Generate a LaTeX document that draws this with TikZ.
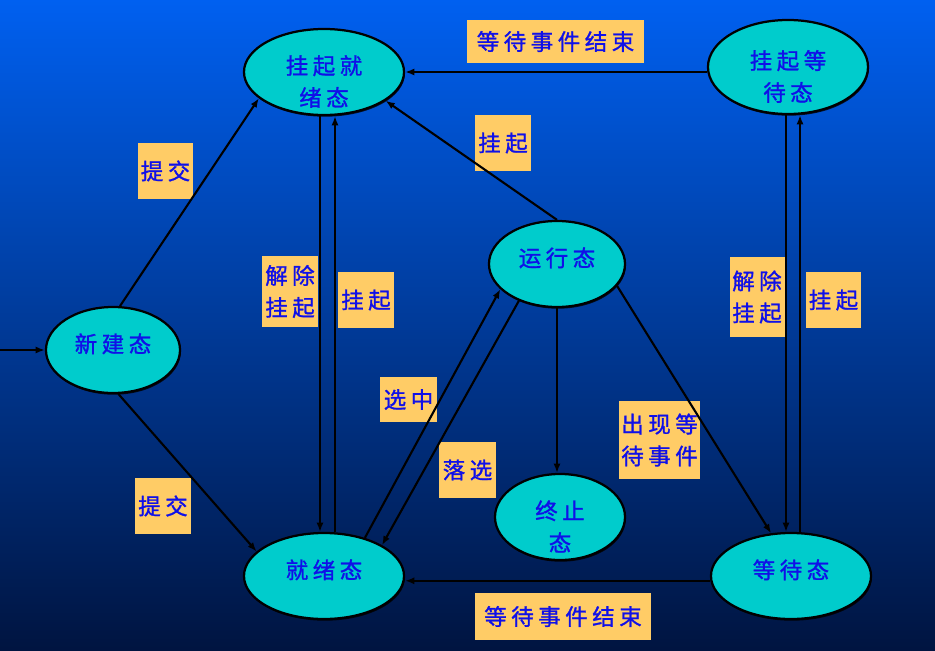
\documentclass[tikz,border=0pt]{standalone}
\usepackage{fontspec}
\usepackage{tikz}
\usetikzlibrary{shapes.geometric,arrows.meta,shadows}
\newfontfamily\cjk[LetterSpace=20,FakeBold=1.2]{Noto Sans CJK SC}
\definecolor{cian}{HTML}{00CCCC}
\definecolor{naranja}{HTML}{FFCC66}
\definecolor{azultexto}{HTML}{1010E8}
\definecolor{fondoalto}{HTML}{0060F0}
\definecolor{fondomedio}{HTML}{003CAA}
\definecolor{fondobajo}{HTML}{001440}
\newcommand{\bajar}{\rule{0pt}{27pt}}
\newcommand{\subir}{\rule[-10pt]{0pt}{10pt}}

\begin{document}
\begin{tikzpicture}[x=0.025cm,y=-0.025cm,
  estado/.style={ellipse,draw=black,line width=1.6pt,fill=cian,inner xsep=0pt,inner ysep=-14pt,
    minimum width=4cm,minimum height=2.15cm,align=center,text=azultexto,
    font=\cjk\fontsize{16pt}{22.7pt}\selectfont,
    drop shadow={shadow xshift=0.6pt,shadow yshift=-1.2pt,opacity=0.8,fill=black}},
  etiqueta/.style={fill=naranja,inner sep=0pt,align=center,text=azultexto,
    minimum width=1.375cm,minimum height=1.4cm,font=\cjk\fontsize{16pt}{22.7pt}\selectfont},
  flecha/.style={-{Latex[length=6.5pt,width=5pt]},line width=1.5pt,draw=black}]
\useasboundingbox (0,0) rectangle (935,651);
\shade[top color=fondoalto,middle color=fondomedio,bottom color=fondobajo] (0,0) rectangle (935,651);

% estados
\node[estado] (gqjx) at (324,72) {\bajar 挂起就\\绪态};
\node[estado,minimum height=2.35cm] (gqdd) at (788,67) {\bajar 挂起等\\待态};
\node[estado,minimum width=3.35cm] (xj) at (113,350) {\subir 新建态};
\node[estado,minimum width=3.4cm] (yx) at (557,264) {\subir 运行态};
\node[estado,minimum width=3.25cm] (zz) at (560,517) {\bajar 终止\\态};
\node[estado] (jx) at (324,576) {\subir 就绪态};
\node[estado] (dd) at (791,576) {\subir 等待态};

% etiquetas
\node[etiqueta,minimum width=4.425cm,minimum height=1.075cm] (fin1) at (555.5,41.5) {等待事件结束};
\node[etiqueta,minimum width=4.4cm,minimum height=1.175cm] (fin2) at (563,616.5) {等待事件结束};
\node[etiqueta] (tj1) at (165.5,171) {提交};
\node[etiqueta] (tj2) at (163,506) {提交};
\node[etiqueta] (gq1) at (503,143) {挂起};
\node[etiqueta,minimum height=1.775cm] (jc1) at (290,291.5) {解除\\挂起};
\node[etiqueta] (gq2) at (366,300) {挂起};
\node[etiqueta,minimum width=1.425cm,minimum height=1.125cm] (xz) at (408.5,399.5) {选中};
\node[etiqueta,minimum width=1.425cm] (lx) at (467.5,470) {落选};
\node[etiqueta,minimum width=2.025cm,minimum height=1.95cm] (cx) at (659.5,440) {出现等\\待事件};
\node[etiqueta,minimum height=2cm] (jc2) at (757,297) {解除\\挂起};
\node[etiqueta] (gq3) at (833.5,300) {挂起};

% transiciones
\coordinate (entrada) at (0,350);
\draw[flecha] (entrada) -- (xj.west);
\draw[flecha] (xj.81) -- (gqjx.202);
\draw[flecha] (xj.-83) -- (jx.160);
\draw[flecha] (gqdd.west |- gqjx.east) -- (gqjx.east);
\draw[flecha] ([yshift=-0.12cm]dd.west) -- ([yshift=-0.12cm]jx.east);
\draw[flecha] (yx.north) -- (gqjx.-25);
\draw[flecha] ([xshift=-0.1cm]gqjx.south) -- ([xshift=-0.1cm]jx.north);
\draw[flecha] ([xshift=0.275cm]jx.north) -- ([xshift=0.275cm]gqjx.south);
\draw[flecha] (jx.43) -- (yx.204);
\draw[flecha] (yx.224) -- (jx.28);
\draw[flecha] (yx.south) -- (yx.south |- zz.north);
\draw[flecha] (yx.-20) -- (dd.115);
\draw[flecha] ([xshift=-0.05cm]gqdd.south) -- ([xshift=-0.05cm]gqdd.south |- dd.north);
\draw[flecha] ([xshift=-0.05cm]gqdd.south |- dd.north) ++(0.35cm,0) coordinate (sube) -- (sube |- gqdd.south);
\end{tikzpicture}
\end{document}
